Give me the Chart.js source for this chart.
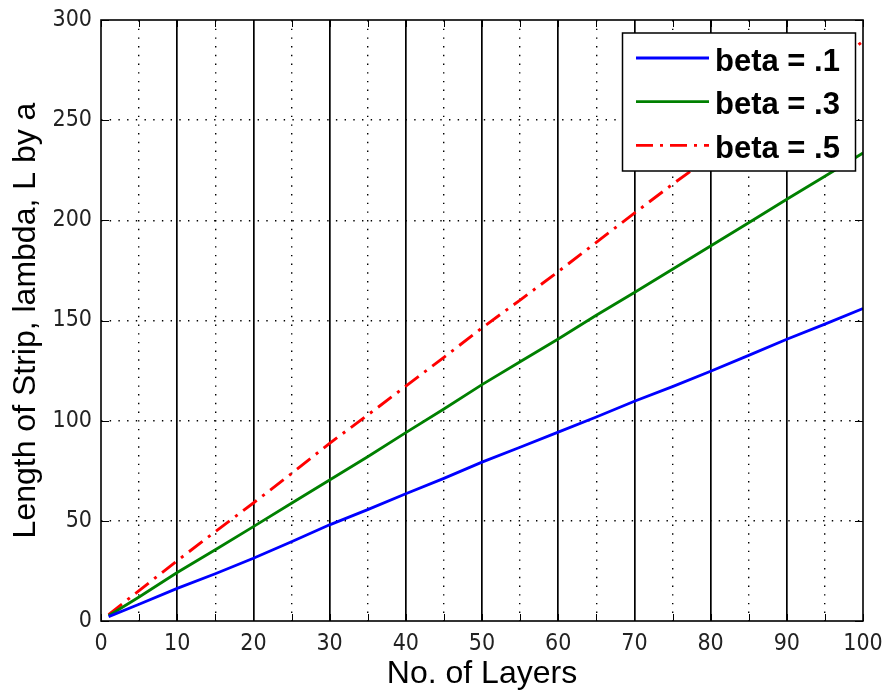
<!DOCTYPE html>
<html>
<head>
<meta charset="utf-8">
<script src="https://cdn.jsdelivr.net/npm/chart.js@4.4.1/dist/chart.umd.min.js"></script>
<style>
  html, body { margin: 0; padding: 0; background: #fff; }
  #wrap { width: 886px; height: 698px; }
</style>
</head>
<body>
<div id="wrap"><canvas id="chart" width="886" height="698"></canvas></div>
<script>
// valeurs (toutes les 5 couches)
const layers = [1, 5, 10, 15, 20, 25, 30, 35, 40, 45, 50, 55, 60, 65, 70, 75, 80, 85, 90, 95, 100];
const beta1 = [2.2, 8.4, 16.3, 23.6, 31.3, 39.6, 48.0, 55.6, 63.5, 71.2, 79.3, 86.7, 94.3, 101.8, 109.7, 117.0, 124.7, 132.6, 140.6, 148.2, 156.0];
const beta3 = [2.6, 12.0, 24.2, 35.6, 47.1, 58.8, 70.4, 82.0, 94.0, 105.8, 118.0, 129.4, 140.8, 152.6, 164.0, 175.6, 187.2, 198.8, 210.5, 222.0, 233.6];
const beta5 = [3.2, 15.2, 30.1, 44.6, 58.9, 73.6, 88.7, 102.8, 117.2, 131.6, 146.3, 160.2, 174.4, 189.0, 203.6, 218.0, 231.8, 246.4, 260.8, 275.0, 289.4];
const seriesLabels = ["beta = .1", "beta = .3", "beta = .5"];

const xTitle = "No. of Layers";
const yTitle = "Length of Strip, lambda, L by a";

const tickFont = { family: "'Liberation Sans Narrow', 'DejaVu Sans Condensed', 'Liberation Sans', Arial, sans-serif", size: 23 };
const titleFont = { family: "'Liberation Sans', Arial, sans-serif", size: 32 };

function points(values) {
  return layers.map((x, i) => ({ x, y: values[i] }));
}

// cadre façon MATLAB : boîte, graduations vers l'intérieur, légende encadrée
const matlabFrame = {
  id: "matlabFrame",
  afterDatasetsDraw(chart) {
    const { ctx, chartArea: area, scales } = chart;
    ctx.save();
    ctx.strokeStyle = "#000";
    ctx.lineWidth = 1;
    ctx.setLineDash([]);

    scales.x.ticks.forEach((t) => {
      const px = Math.round(scales.x.getPixelForValue(t.value)) + 0.5;
      ctx.beginPath();
      ctx.moveTo(px, area.bottom); ctx.lineTo(px, area.bottom - 7);
      ctx.moveTo(px, area.top); ctx.lineTo(px, area.top + 7);
      ctx.stroke();
    });
    scales.y.ticks.forEach((t) => {
      const py = Math.round(scales.y.getPixelForValue(t.value)) + 0.5;
      ctx.beginPath();
      ctx.moveTo(area.left, py); ctx.lineTo(area.left + 8, py);
      ctx.moveTo(area.right, py); ctx.lineTo(area.right - 8, py);
      ctx.stroke();
    });

    ctx.lineWidth = 1.6;
    ctx.strokeRect(area.left, area.top, area.right - area.left, area.bottom - area.top);

    // légende
    const box = { x: 622.5, y: 33, w: 233, h: 138 };
    ctx.fillStyle = "#fff";
    ctx.fillRect(box.x, box.y, box.w, box.h);
    ctx.lineWidth = 1.5;
    ctx.strokeRect(box.x, box.y, box.w, box.h);

    ctx.font = "bold 31px 'Liberation Sans', Arial, sans-serif";
    ctx.textBaseline = "alphabetic";
    ctx.textAlign = "left";
    chart.data.datasets.forEach((ds, i) => {
      const ly = 58 + i * 43.7;
      ctx.strokeStyle = ds.borderColor;
      ctx.lineWidth = 2.8;
      ctx.setLineDash(ds.borderDash || []);
      ctx.beginPath();
      ctx.moveTo(636, ly);
      ctx.lineTo(709, ly);
      ctx.stroke();
      ctx.setLineDash([]);
      ctx.fillStyle = "#000";
      ctx.fillText(ds.label, 715, ly + 12.5);
    });
    ctx.restore();
  }
};

new Chart(document.getElementById("chart"), {
  type: "line",
  data: {
    datasets: [
      { label: seriesLabels[0], data: points(beta1), borderColor: "#0000ff", borderWidth: 2.8 },
      { label: seriesLabels[1], data: points(beta3), borderColor: "#008000", borderWidth: 2.8 },
      { label: seriesLabels[2], data: points(beta5), borderColor: "#ff0000", borderWidth: 2.9, borderDash: [17, 7, 3, 7] }
    ]
  },
  options: {
    responsive: false,
    animation: false,
    events: [],
    elements: {
      point: { radius: 0 },
      line: { tension: 0, fill: false }
    },
    layout: { padding: { top: 20, right: 23, left: 0, bottom: 0 } },
    plugins: {
      legend: { display: false },
      tooltip: { enabled: false }
    },
    scales: {
      x: {
        type: "linear",
        min: 0,
        max: 100,
        afterFit: (scale) => {
          scale.height = 77;
          scale.paddingLeft = 0;
          scale.paddingRight = 0;
        },
        ticks: {
          stepSize: 5,
          autoSkip: false,
          maxRotation: 0,
          padding: 9,
          color: "#222",
          font: tickFont,
          callback: (v) => (v % 10 === 0 ? v : "")
        },
        grid: {
          drawTicks: false,
          color: (c) => (c.tick && (c.tick.value === 0 || c.tick.value === 100) ? "rgba(0,0,0,0)" : "#000"),
          lineWidth: (c) => (c.tick && c.tick.value % 10 === 0 ? 1.7 : 1.4)
        },
        border: {
          display: false,
          dash: (c) => (c.tick && c.tick.value % 10 !== 0 ? [1.4, 7.3] : [])
        },
        title: {
          display: true,
          text: xTitle,
          color: "#000",
          font: titleFont,
          padding: { top: 0, bottom: 5 }
        }
      },
      y: {
        type: "linear",
        min: 0,
        max: 300,
        afterFit: (scale) => {
          scale.width = 101;
          scale.paddingTop = 0;
          scale.paddingBottom = 0;
        },
        ticks: {
          stepSize: 50,
          padding: 9,
          color: "#222",
          font: tickFont
        },
        grid: {
          drawTicks: false,
          color: (c) => (c.tick && (c.tick.value === 0 || c.tick.value === 300) ? "rgba(0,0,0,0)" : "#000"),
          lineWidth: 1.4
        },
        border: {
          display: false,
          dash: [1.4, 7.3]
        },
        title: {
          display: true,
          text: yTitle,
          color: "#000",
          font: titleFont,
          padding: { top: 7, bottom: 0 }
        }
      }
    }
  },
  plugins: [matlabFrame]
});
</script>
</body>
</html>
